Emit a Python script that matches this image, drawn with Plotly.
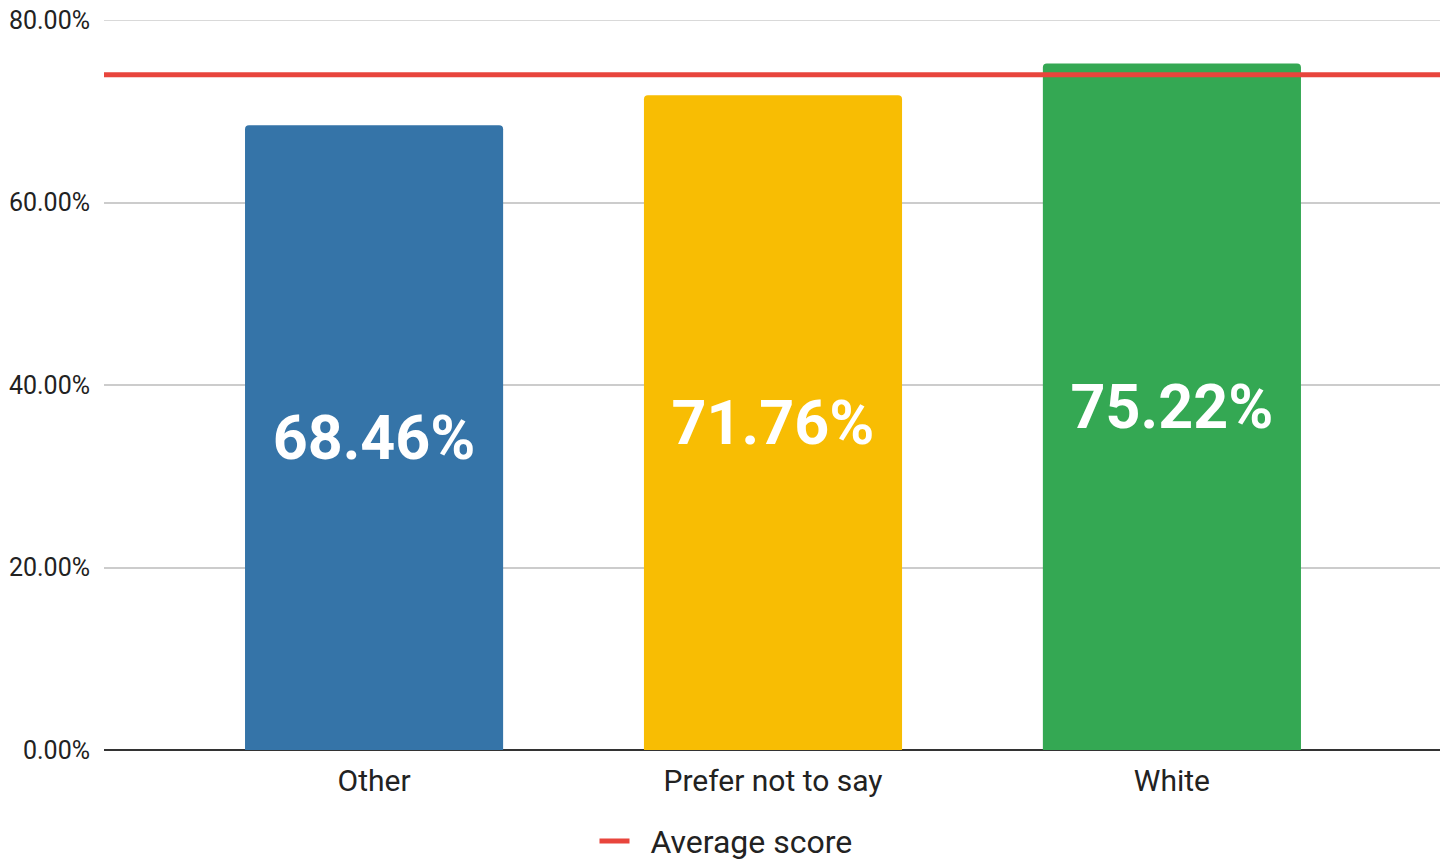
import plotly.graph_objects as go

# Score by ethnicity group, with the overall average shown as a reference line
categories = ["Other", "Prefer not to say", "White"]
scores = [0.6846, 0.7176, 0.7522]
bar_colors = ["#3574a8", "#f8bd03", "#34a853"]
average_score = 0.7400
y_ticks = [0.0, 0.2, 0.4, 0.6, 0.8]

fig = go.Figure()

fig.add_trace(go.Bar(
    x=categories,
    y=scores,
    marker=dict(color=bar_colors, line=dict(width=0), cornerradius=4),
    texttemplate="%{y:.2%}",
    textposition="inside",
    insidetextanchor="middle",
    textfont=dict(family="Roboto", size=61, color="white", weight="bold"),
    showlegend=False,
    hoverinfo="skip",
))

# Average line spans the full plot width on an overlaid numeric axis
fig.add_trace(go.Scatter(
    x=[0, 1],
    y=[average_score, average_score],
    xaxis="x2",
    mode="lines",
    line=dict(color="#e8453c", width=5),
    name="\u00a0\u00a0Average score",
))

# Top gridline sits on the plot edge, where Plotly skips it; draw it explicitly
fig.add_shape(
    type="line", xref="paper", yref="y",
    x0=0, x1=1, y0=y_ticks[-1], y1=y_ticks[-1],
    line=dict(color="#cccccc", width=1.5),
    layer="below",
)

fig.update_layout(
    width=1452,
    height=860,
    margin=dict(l=104, r=12, t=20, b=110),
    paper_bgcolor="white",
    plot_bgcolor="white",
    font=dict(family="Roboto", color="#222222"),
    bargap=0.353,
    xaxis=dict(
        type="category",
        range=[-0.677, 2.672],
        automargin=False,
        showgrid=False,
        showline=False,
        ticks="outside",
        ticklen=4,
        tickcolor="rgba(0,0,0,0)",
        tickfont=dict(size=30, color="#222222"),
        zeroline=False,
    ),
    xaxis2=dict(
        overlaying="x",
        range=[0, 1],
        visible=False,
        fixedrange=True,
    ),
    yaxis=dict(
        range=[0, 0.8],
        automargin=False,
        tickvals=y_ticks,
        tickformat=".2%",
        showgrid=True,
        gridcolor="#cccccc",
        gridwidth=1.5,
        zeroline=True,
        zerolinecolor="#333333",
        zerolinewidth=2,
        ticks="outside",
        ticklen=8,
        tickcolor="rgba(0,0,0,0)",
        tickfont=dict(size=25, color="#222222"),
        showline=False,
    ),
    legend=dict(
        orientation="h",
        xref="container",
        x=0.5,
        xanchor="center",
        yref="container",
        y=0.022,
        yanchor="middle",
        font=dict(size=32, color="#222222"),
        bgcolor="rgba(0,0,0,0)",
    ),
)

fig.write_html("out.html")
